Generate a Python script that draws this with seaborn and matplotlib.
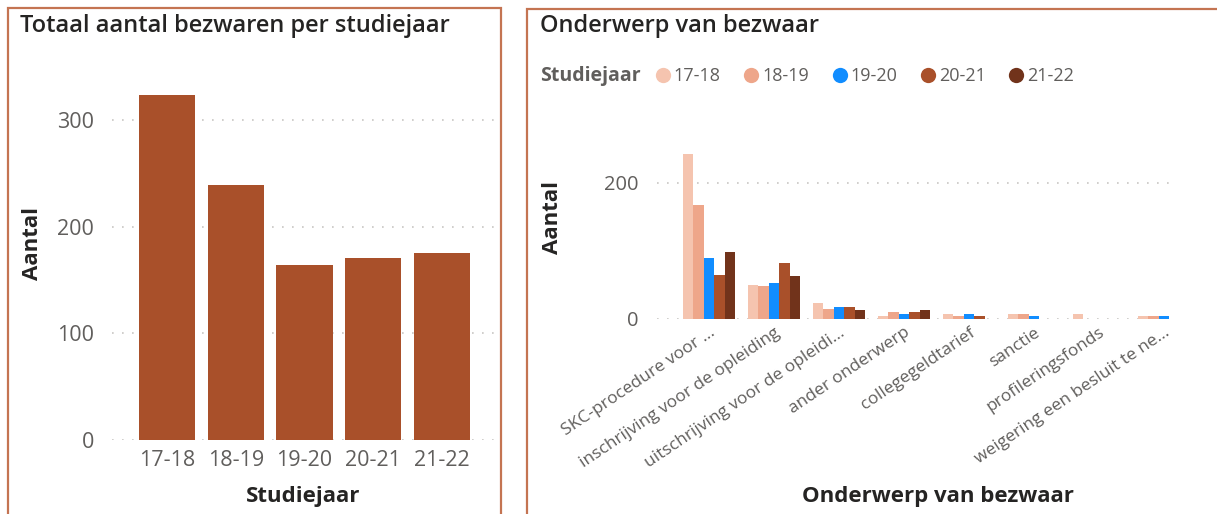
import pandas as pd
import seaborn as sns
import matplotlib.pyplot as plt
from matplotlib.patches import Rectangle
from matplotlib.lines import Line2D

# data
jaren = ["17-18", "18-19", "19-20", "20-21", "21-22"]
totaal = [323, 239, 164, 171, 175]

onderwerpen = [
    "SKC-procedure voor ...",
    "inschrijving voor de opleiding",
    "uitschrijving voor de opleidi...",
    "ander onderwerp",
    "collegegeldtarief",
    "sanctie",
    "profileringsfonds",
    "weigering een besluit te ne...",
]
per_jaar = {
    "17-18": [242, 50, 23, 5, 8, 7, 7, 5],
    "18-19": [168, 48, 15, 10, 5, 7, 0, 5],
    "19-20": [90, 53, 18, 7, 8, 5, 0, 5],
    "20-21": [65, 83, 18, 10, 5, 0, 0, 0],
    "21-22": [98, 63, 13, 13, 0, 0, 0, 0],
}
kleuren = ["#F5C4AF", "#EEA68A", "#118DFF", "#A9502A", "#71331B"]

sns.set_theme(style="white")
plt.rcParams["font.family"] = ["Open Sans", "DejaVu Sans"]

W, H = 1217, 514
fig = plt.figure(figsize=(W / 100, H / 100), dpi=100)


def box(x0, y0, x1, y1):
    return [x0 / W, 1 - y1 / H, (x1 - x0) / W, (y1 - y0) / H]


rand = "#C47452"
fig.add_artist(Rectangle((8 / W, -0.05), (501 - 8) / W, 1.05 - 8 / H,
                         transform=fig.transFigure, fill=False, ec=rand, lw=1.6))
fig.add_artist(Rectangle((527 / W, -0.05), 0.6, 1.05 - 9 / H,
                         transform=fig.transFigure, fill=False, ec=rand, lw=1.6))

tekst = "#252423"
grijs = "#605E5C"


def opmaak(ax, ticks, size):
    ax.set_yticks(ticks)
    ax.grid(axis="y", color="#C8C6C4", linestyle=(0, (1, 5)), linewidth=1.2)
    ax.grid(axis="x", visible=False)
    sns.despine(ax=ax, left=True, bottom=True)
    ax.tick_params(length=0, colors=grijs, labelsize=size)
    ax.tick_params(axis="y", pad=13)
    ax.set_ylabel("Aantal", fontsize=16, fontweight="bold", color=tekst)


# linker grafiek
ax1 = fig.add_axes(box(112, 64, 497, 440))
df1 = pd.DataFrame({"Studiejaar": jaren, "Aantal": totaal})
sns.barplot(data=df1, x="Studiejaar", y="Aantal", color="#A9502A",
            width=0.82, linewidth=0, saturation=1, ax=ax1)
ax1.set_ylim(0, 352.5)
ax1.set_xlim(-0.8, 4.8)
opmaak(ax1, [0, 100, 200, 300], 15.5)
ax1.tick_params(axis="x", pad=7)
ax1.set_xlabel("Studiejaar", fontsize=16, fontweight="bold", color=tekst)
ax1.xaxis.set_label_coords(0.496, -0.122)
ax1.yaxis.set_label_coords(-0.179, 0.522)
fig.text(20 / W, 1 - 26 / H, "Totaal aantal bezwaren per studiejaar",
         fontsize=17, fontweight="semibold", color=tekst, va="center", ha="left")

# rechter grafiek
ax2 = fig.add_axes(box(657, 115, 1177, 319))
df2 = pd.DataFrame(
    [(o, j, per_jaar[j][i]) for j in jaren for i, o in enumerate(onderwerpen)],
    columns=["Onderwerp", "Studiejaar", "Aantal"],
)
sns.barplot(data=df2, x="Onderwerp", y="Aantal", hue="Studiejaar",
            hue_order=jaren, palette=kleuren, width=0.8, linewidth=0,
            saturation=1, legend=False, ax=ax2)
ax2.set_ylim(0, 300)
ax2.set_xlim(-0.8, 7.2)
opmaak(ax2, [0, 200], 14.5)
ax2.tick_params(axis="x", labelsize=12.5, pad=4)
plt.setp(ax2.get_xticklabels(), rotation=34, ha="right", rotation_mode="anchor")
ax2.set_xlabel("Onderwerp van bezwaar", fontsize=16, fontweight="bold", color=tekst)
ax2.xaxis.set_label_coords(0.54, -0.82)
ax2.yaxis.set_label_coords(-0.181, 0.5)
fig.text(540 / W, 1 - 26 / H, "Onderwerp van bezwaar",
         fontsize=17, fontweight="semibold", color=tekst, va="center", ha="left")

fig.text(540 / W, 1 - 76 / H, "Studiejaar", fontsize=14, fontweight="bold",
         color=grijs, va="center", ha="left")
handles = [Line2D([], [], marker="o", linestyle="", markersize=11,
                  markerfacecolor=k, markeredgewidth=0) for k in kleuren]
fig.legend(handles, jaren, loc="center left", bbox_to_anchor=(652 / W, 1 - 76 / H),
           ncol=5, frameon=False, handletextpad=0.0, columnspacing=1.1,
           handlelength=1.2, fontsize=13, labelcolor=grijs,
           borderpad=0, borderaxespad=0)

fig.savefig("out.png", dpi=100)
